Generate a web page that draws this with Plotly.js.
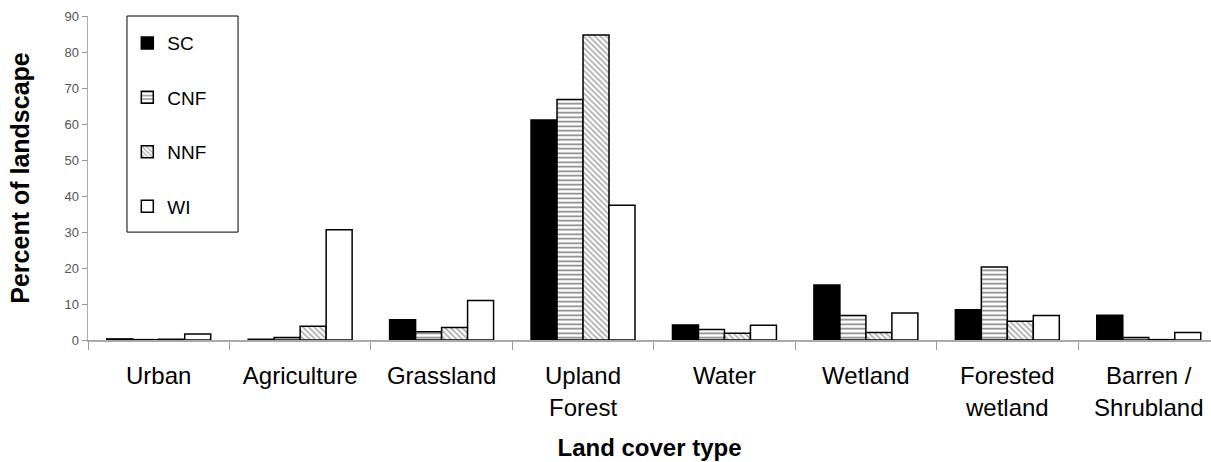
<!DOCTYPE html>
<html><head><meta charset="utf-8">
<script src="https://cdn.plot.ly/plotly-3.0.1.min.js"></script>
<style>html,body{margin:0;padding:0;background:#fff}#chart{width:1211px;height:462px}</style>
</head><body><div id="chart"></div>
<script>
const categories = ["Urban", "Agriculture", "Grassland", "Upland<br>Forest", "Water", "Wetland", "Forested<br>wetland", "Barren /<br>Shrubland"];
const SC  = [0.3, 0.2, 5.6, 61.1, 4.2, 15.3, 8.4, 6.9];
const CNF = [0.1, 0.7, 2.3, 66.8, 2.9, 6.8, 20.3, 0.7];
const NNF = [0.2, 3.8, 3.5, 84.7, 1.9, 2.1, 5.2, 0.1];
const WI  = [1.7, 30.6, 11.0, 37.4, 4.1, 7.5, 6.8, 2.1];
const yTicks = [0, 10, 20, 30, 40, 50, 60, 70, 80, 90];

const line = {color: '#000', width: 1.5};
const traces = [
  {name: 'SC', y: SC, marker: {color: '#000', line: line}},
  {name: 'CNF', y: CNF, marker: {color: '#fff', line: line, pattern: {shape: '-', fgcolor: '#000', bgcolor: '#fff', size: 4.5, solidity: 0.35, fillmode: 'overlay'}}},
  {name: 'NNF', y: NNF, marker: {color: '#fff', line: line, pattern: {shape: '\\', fgcolor: '#555', bgcolor: '#fff', size: 4, solidity: 0.4, fillmode: 'overlay'}}},
  {name: 'WI', y: WI, marker: {color: '#fff', line: line}}
].map((t, i) => Object.assign({type: 'bar', x: categories, legendgroup: 'g' + i, hoverinfo: 'none'}, t));

const layout = {
  width: 1211, height: 462,
  margin: {l: 88, r: 0, t: 16, b: 122},
  paper_bgcolor: '#fff', plot_bgcolor: '#fff',
  font: {family: 'Liberation Sans, Arial, sans-serif', color: '#000'},
  barmode: 'group', bargap: 0.265, bargroupgap: 0,
  showlegend: true,
  legend: {x: 0.035, y: 0.975, xanchor: 'left', yanchor: 'top', borderwidth: 0,
           bgcolor: 'rgba(0,0,0,0)', font: {size: 19}, tracegroupgap: 26.7, itemwidth: 30},
  shapes: [{type: 'rect', xref: 'paper', yref: 'paper', x0: 0.0347, x1: 0.1336, y0: 0.333, y1: 1,
            line: {color: '#000', width: 1}, fillcolor: 'rgba(0,0,0,0)', layer: 'above'}],
  xaxis: {
    type: 'category', range: [-0.5, 7.44], tickson: 'boundaries', ticks: 'outside', ticklen: 8,
    tickcolor: '#999', showline: true, linecolor: '#aaa', linewidth: 1.5, showgrid: false,
    tickfont: {size: 24}, tickangle: 0, ticklabelstandoff: 14,
    title: {text: '<b>Land cover type</b>', font: {size: 24}, standoff: 19}
  },
  yaxis: {
    range: [0, 90], tickvals: yTicks, ticks: 'outside', ticklen: 5, tickcolor: '#999',
    showline: true, linecolor: '#aaa', linewidth: 1.5, showgrid: false, zeroline: false,
    tickfont: {size: 13, color: '#555'}, title: {text: '<b>Percent of landscape</b>', font: {size: 25}, standoff: 27}
  }
};
Plotly.newPlot('chart', traces, layout, {staticPlot: true});
</script></body></html>
